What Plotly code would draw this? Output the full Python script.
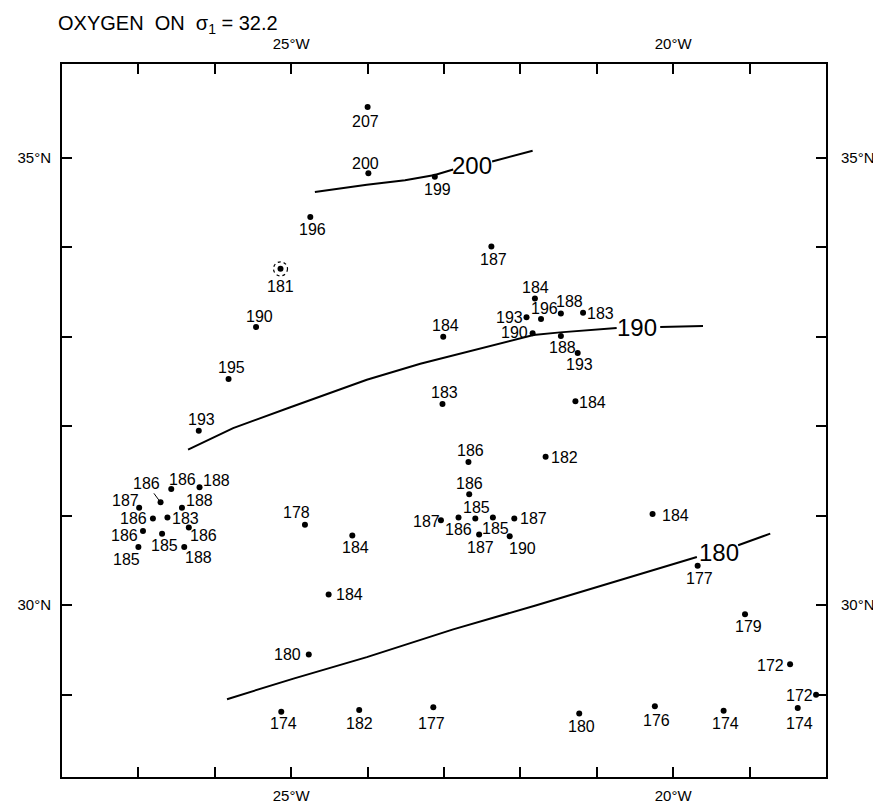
import plotly.graph_objects as go

# ---- data ----
station_lon_w = [24.00, 23.99, 23.12, 24.75, 25.14, 25.46, 25.82, 26.21, 23.01, 23.02,
                 22.38, 21.81, 21.92, 21.73, 21.47, 21.18, 21.84, 21.47, 21.25, 21.28,
                 22.68, 21.67, 22.67, 22.59, 23.04, 22.81, 22.36, 22.08, 22.54, 22.14,
                 20.27, 19.68, 19.06, 18.47, 18.13, 18.37, 19.34, 20.24, 21.23, 23.14,
                 24.11, 25.13, 24.77, 24.51, 24.82, 24.20,
                 26.71, 26.57, 26.20, 26.99, 26.43, 26.81, 26.62, 26.94, 26.69, 26.34,
                 27.00, 26.40]
station_lat = [35.57, 34.83, 34.79, 34.34, 33.76, 33.11, 32.53, 31.95, 33.00, 32.25,
               34.01, 33.43, 33.22, 33.20, 33.26, 33.27, 33.04, 33.01, 32.82, 32.28,
               31.60, 31.66, 31.24, 30.97, 30.95, 30.98, 30.98, 30.97, 30.79, 30.77,
               31.02, 30.44, 29.90, 29.34, 29.00, 28.85, 28.82, 28.87, 28.79, 28.86,
               28.83, 28.81, 29.45, 30.12, 30.90, 30.78,
               31.15, 31.30, 31.32, 31.09, 31.09, 30.97, 30.98, 30.83, 30.80, 30.87,
               30.65, 30.65]
station_o2 = [207, 200, 199, 196, 181, 190, 195, 193, 184, 183,
              187, 184, 193, 196, 188, 183, 190, 188, 193, 184,
              186, 182, 186, 185, 187, 186, 185, 187, 187, 190,
              184, 177, 179, 172, 172, 174, 174, 176, 180, 177,
              182, 174, 180, 184, 178, 184,
              186, 186, 188, 187, 188, 186, 183, 186, 185, 186,
              185, 188]
circled_station = 4      # index of the circled station (181)
leader_station = 46      # index of the station whose label has a leader line

# contour lines (None = gap where the contour value is written)
c200_lon_w = [24.69, 24.01, 23.51, 23.12, 22.88, None, 22.37, 21.84]
c200_lat = [34.62, 34.70, 34.75, 34.81, 34.87, None, 34.96, 35.08]
c190_lon_w = [26.35, 25.76, 25.02, 24.01, 23.31, 22.44, 21.83, 21.48, 20.74, None, 20.17, 19.61]
c190_lat = [31.74, 31.98, 32.21, 32.52, 32.70, 32.89, 33.02, 33.05, 33.10, None, 33.11, 33.12]
c180_lon_w = [25.84, 24.97, 24.01, 22.88, 21.79, 20.83, 19.69, None, 19.15, 18.73]
c180_lat = [28.95, 29.18, 29.42, 29.73, 30.00, 30.25, 30.54, None, 30.67, 30.80]
contour_values = [200, 190, 180]
contour_label_lon_w = [22.64, 20.48, 19.40]
contour_label_lat = [34.92, 33.11, 30.59]

lon_ticks = [27, 26, 25, 24, 23, 22, 21, 20, 19]
lon_labels = {25: "25°W", 20: "20°W"}
lat_ticks = [29, 30, 31, 32, 33, 34, 35]
lat_labels = {30: "30°N", 35: "35°N"}
title_text = "OXYGEN  ON  σ<sub>1</sub> = 32.2"

# ---- label offsets in pixels (style) ----
label_offsets = [(-2, 15), (-3, -10), (3, 13), (2, 13), (0, 18), (3, -11), (3, -11), (3, -11), (2, -11), (2, -11),
                 (2, 13), (1, -11), (-17, 0), (3, -10), (9, -12), (17, 1), (-18, -1), (2, 12), (2, 12), (17, 1),
                 (2, -12), (19, 1), (0, -11), (1, -11), (-14, 1), (0, 12), (3, 11), (19, 0), (1, 13), (13, 12),
                 (23, 2), (2, 13), (3, 12), (-20, 1), (-17, 1), (2, 15), (2, 13), (2, 14), (2, 13), (-2, 16),
                 (0, 14), (2, 12), (-21, 0), (21, 0), (-8, -12), (3, 12),
                 (-14, -19), (11, -9), (17, -7), (-14, -7), (18, -7), (-19, 0), (18, 1), (-18, 5), (2, 12), (15, 8),
                 (-12, 12), (14, 10)]

FONT = "Liberation Sans, Arial, sans-serif"
W, H = 873, 803   # page body keeps an 8 px margin inside the 881x811 window

fig = go.Figure()

for lw, la in [(c200_lon_w, c200_lat), (c190_lon_w, c190_lat), (c180_lon_w, c180_lat)]:
    fig.add_trace(go.Scatter(x=[None if v is None else -v for v in lw], y=la, mode="lines",
                             connectgaps=False,
                             line=dict(color="black", width=2), hoverinfo="skip", showlegend=False))

fig.add_trace(go.Scatter(x=[-v for v in station_lon_w], y=station_lat, mode="markers",
                         marker=dict(color="black", size=6), showlegend=False))

# invisible trace for top/right axes
fig.add_trace(go.Scatter(x=[-v for v in station_lon_w[:1]], y=station_lat[:1], xaxis="x2", yaxis="y2",
                         mode="markers", marker=dict(opacity=0), showlegend=False, hoverinfo="skip"))

# station labels
for i, (lw, la, v) in enumerate(zip(station_lon_w, station_lat, station_o2)):
    dx, dy = label_offsets[i]
    if i == leader_station:
        fig.add_annotation(x=-lw, y=la, text=str(v), showarrow=True, arrowhead=0, arrowwidth=1,
                           arrowcolor="black", ax=dx, ay=dy, standoff=3,
                           font=dict(family=FONT, size=16, color="black"))
    else:
        fig.add_annotation(x=-lw, y=la, text=str(v), showarrow=False, xshift=dx, yshift=-dy,
                           font=dict(family=FONT, size=16, color="black"))

# dashed circle around circled station
fig.add_shape(type="circle", xref="x", yref="y", xsizemode="pixel", ysizemode="pixel",
              xanchor=-station_lon_w[circled_station], yanchor=station_lat[circled_station],
              x0=-7, x1=7, y0=-7, y1=7, line=dict(color="black", width=1.2, dash="dot"))

# contour labels
for lw, la, val in zip(contour_label_lon_w, contour_label_lat, contour_values):
    fig.add_annotation(x=-lw, y=la, text=str(val), showarrow=False,
                       font=dict(family=FONT, size=24, color="black"))

xt_vals = [-t for t in lon_ticks]
xt_text = [lon_labels.get(t, "") for t in lon_ticks]
yt_text = [lat_labels.get(t, "") for t in lat_ticks]

axis_common = dict(showgrid=False, zeroline=False, showline=True, linecolor="black", linewidth=2,
                   ticks="inside", ticklen=10, tickwidth=1.5, tickcolor="black", automargin=False,
                   tickfont=dict(family=FONT, size=15, color="black"))

fig.update_layout(
    width=W, height=H,
    margin=dict(l=54, r=55, t=56, b=34),
    paper_bgcolor="white", plot_bgcolor="white",
    showlegend=False,
    title=dict(text=title_text, x=50 / W, xanchor="left", y=1 - 15 / H, yanchor="middle",
               font=dict(family=FONT, size=20, color="black")),
    xaxis=dict(range=[-28, -18], tickmode="array", tickvals=xt_vals, ticktext=xt_text,
               ticklabelstandoff=4, **axis_common),
    yaxis=dict(range=[28.08, 36.05], tickmode="array", tickvals=lat_ticks, ticktext=yt_text,
               ticklabelstandoff=6, **axis_common),
    xaxis2=dict(range=[-28, -18], overlaying="x", side="top", tickmode="array", tickvals=xt_vals,
                ticktext=xt_text, ticklabelstandoff=7, **axis_common),
    yaxis2=dict(range=[28.08, 36.05], overlaying="y", side="right", tickmode="array", tickvals=lat_ticks,
                ticktext=yt_text, ticklabelstandoff=10, **axis_common),
)

fig.write_html("out.html")
